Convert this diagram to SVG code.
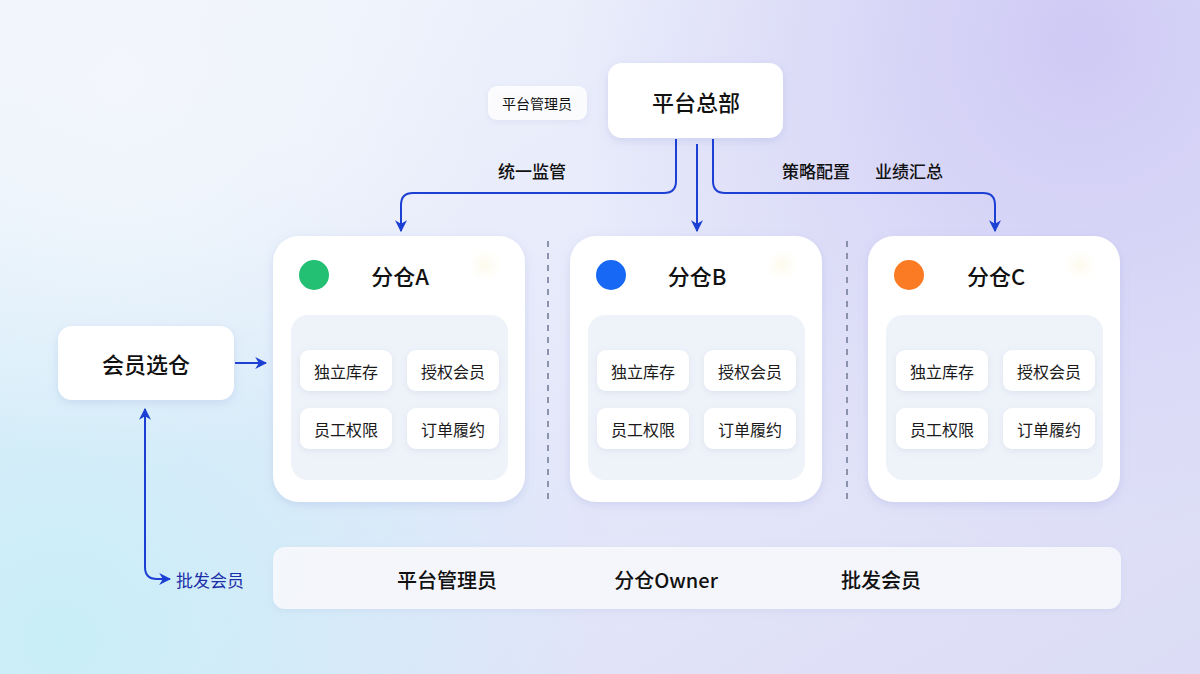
<svg xmlns="http://www.w3.org/2000/svg" width="1200" height="674" viewBox="0 0 1200 674">
<defs>
<linearGradient id="bg" x1="0" y1="0" x2="1" y2="1">
<stop offset="0" stop-color="#f1f5fc"/>
<stop offset="0.5" stop-color="#e6e9fa"/>
<stop offset="1" stop-color="#dcdcf6"/>
</linearGradient>
<radialGradient id="tr" cx="1080" cy="40" r="520" gradientUnits="userSpaceOnUse">
<stop offset="0" stop-color="#cfcaf5"/>
<stop offset="1" stop-color="#cfcaf5" stop-opacity="0"/>
</radialGradient>
<radialGradient id="bl" cx="60" cy="640" r="560" gradientUnits="userSpaceOnUse">
<stop offset="0" stop-color="#c8eef8"/>
<stop offset="1" stop-color="#c8eef8" stop-opacity="0"/>
</radialGradient>
<radialGradient id="tl" cx="120" cy="80" r="380" gradientUnits="userSpaceOnUse">
<stop offset="0" stop-color="#f3f7fc"/>
<stop offset="1" stop-color="#f3f7fc" stop-opacity="0"/>
</radialGradient>
<filter id="sh" x="-20%" y="-20%" width="140%" height="140%">
<feDropShadow dx="0" dy="3" stdDeviation="5" flood-color="#7f8fd0" flood-opacity="0.22"/>
</filter>
<filter id="sh2" x="-20%" y="-20%" width="140%" height="140%">
<feDropShadow dx="0" dy="2" stdDeviation="3" flood-color="#8090c0" flood-opacity="0.15"/>
</filter>
<marker id="ah" viewBox="0 0 10 10" refX="9" refY="5" markerWidth="6" markerHeight="6" orient="auto-start-reverse" markerUnits="strokeWidth">
<path d="M0,0 L10,5 L0,10 L3,5 Z" fill="#1c3fd4"/>
</marker>
<radialGradient id="glow" cx="0.5" cy="0.5" r="0.5">
<stop offset="0" stop-color="#fbf7e2" stop-opacity="0.6"/>
<stop offset="1" stop-color="#fbf7e2" stop-opacity="0"/>
</radialGradient>
</defs>
<style>
text{font-family:"Noto Sans CJK SC","Noto Sans",sans-serif;fill:#111;}
.card{fill:#fff;filter:url(#sh);}
.panel{fill:#eef2f9;}
.btn{fill:#fff;filter:url(#sh2);}
.bt{font-size:16px;text-anchor:middle;dominant-baseline:central;fill:#1a1a1a;}
.ttl{font-size:22px;font-weight:500;text-anchor:middle;dominant-baseline:central;}
.lbl{font-size:17px;font-weight:500;dominant-baseline:central;}
.role{font-size:20px;font-weight:500;text-anchor:middle;dominant-baseline:central;}
.conn{fill:none;stroke:#1c3fd4;stroke-width:2;}
.dash{stroke:#6f7894;stroke-width:1.5;stroke-dasharray:6 6;}
</style>
<rect width="1200" height="674" fill="url(#bg)"/>
<rect width="1200" height="674" fill="url(#tr)"/>
<rect width="1200" height="674" fill="url(#bl)"/>
<rect width="1200" height="674" fill="url(#tl)"/>

<g id="hq">
<rect x="608" y="63" width="175" height="75" rx="14" class="card"/>
<text x="696" y="101" class="ttl">平台总部</text>
</g>
<g id="admin-tag">
<rect x="488" y="86" width="99" height="34" rx="9" fill="#fff" fill-opacity="0.85" filter="url(#sh2)"/>
<text x="537" y="103" font-size="14" text-anchor="middle" dominant-baseline="central" fill="#333">平台管理员</text>
</g>

<g id="connectors">
<path class="conn" d="M676,139 V181 Q676,193 664,193 H413 Q401,193 401,205 V231" marker-end="url(#ah)"/>
<path class="conn" d="M697,144 V231" marker-end="url(#ah)"/>
<path class="conn" d="M713,139 V181 Q713,193 725,193 H983 Q995,193 995,205 V231" marker-end="url(#ah)"/>
<path class="conn" d="M235,363 H266" marker-end="url(#ah)"/>
<path class="conn" d="M145,409 V567 Q145,579 157,579 H170" marker-start="url(#ah)" marker-end="url(#ah)"/>
<text x="498" y="170" class="lbl">统一监管</text>
<text x="782" y="170" class="lbl">策略配置</text>
<text x="875" y="170" class="lbl">业绩汇总</text>
</g>

<g id="dividers">
<line x1="548" y1="241" x2="548" y2="500" class="dash"/>
<line x1="847" y1="241" x2="847" y2="500" class="dash"/>
</g>

<g id="warehouse-a">
<rect x="273" y="236" width="252" height="266" rx="26" class="card"/>
<circle cx="485" cy="265" r="16" fill="url(#glow)"/>
<circle cx="314" cy="275" r="15" fill="#23c073"/>
<text x="400" y="275" class="ttl">分仓A</text>
<rect x="291" y="315" width="217" height="165" rx="17" class="panel"/>
<rect x="300" y="350" width="92" height="41" rx="9" class="btn"/>
<text x="346" y="370.5" class="bt">独立库存</text>
<rect x="407" y="350" width="92" height="41" rx="9" class="btn"/>
<text x="453" y="370.5" class="bt">授权会员</text>
<rect x="300" y="408" width="92" height="41" rx="9" class="btn"/>
<text x="346" y="428.5" class="bt">员工权限</text>
<rect x="407" y="408" width="92" height="41" rx="9" class="btn"/>
<text x="453" y="428.5" class="bt">订单履约</text>
</g>

<g id="warehouse-b">
<rect x="570" y="236" width="252" height="266" rx="26" class="card"/>
<circle cx="782" cy="265" r="16" fill="url(#glow)"/>
<circle cx="611" cy="275" r="15" fill="#1768f5"/>
<text x="697" y="275" class="ttl">分仓B</text>
<rect x="588" y="315" width="217" height="165" rx="17" class="panel"/>
<rect x="597" y="350" width="92" height="41" rx="9" class="btn"/>
<text x="643" y="370.5" class="bt">独立库存</text>
<rect x="704" y="350" width="92" height="41" rx="9" class="btn"/>
<text x="750" y="370.5" class="bt">授权会员</text>
<rect x="597" y="408" width="92" height="41" rx="9" class="btn"/>
<text x="643" y="428.5" class="bt">员工权限</text>
<rect x="704" y="408" width="92" height="41" rx="9" class="btn"/>
<text x="750" y="428.5" class="bt">订单履约</text>
</g>

<g id="warehouse-c">
<rect x="868" y="236" width="252" height="266" rx="26" class="card"/>
<circle cx="1080" cy="265" r="16" fill="url(#glow)"/>
<circle cx="909" cy="275" r="15" fill="#fb7a24"/>
<text x="996" y="275" class="ttl">分仓C</text>
<rect x="886" y="315" width="217" height="165" rx="17" class="panel"/>
<rect x="896" y="350" width="92" height="41" rx="9" class="btn"/>
<text x="942" y="370.5" class="bt">独立库存</text>
<rect x="1003" y="350" width="92" height="41" rx="9" class="btn"/>
<text x="1049" y="370.5" class="bt">授权会员</text>
<rect x="896" y="408" width="92" height="41" rx="9" class="btn"/>
<text x="942" y="428.5" class="bt">员工权限</text>
<rect x="1003" y="408" width="92" height="41" rx="9" class="btn"/>
<text x="1049" y="428.5" class="bt">订单履约</text>
</g>

<g id="member-select">
<rect x="58" y="326" width="176" height="74" rx="14" class="card"/>
<text x="146" y="363" class="ttl" font-size="21">会员选仓</text>
</g>

<g id="wholesale-label">
<text x="176" y="579" font-size="17" dominant-baseline="central" style="fill:#1a2fa8">批发会员</text>
</g>

<g id="roles-bar">
<rect x="273" y="547" width="848" height="62" rx="12" fill="#f7f9fc" fill-opacity="0.92" filter="url(#sh2)"/>
<text x="447" y="579" class="role">平台管理员</text>
<text x="666" y="579" class="role">分仓Owner</text>
<text x="881" y="579" class="role">批发会员</text>
</g>
</svg>
